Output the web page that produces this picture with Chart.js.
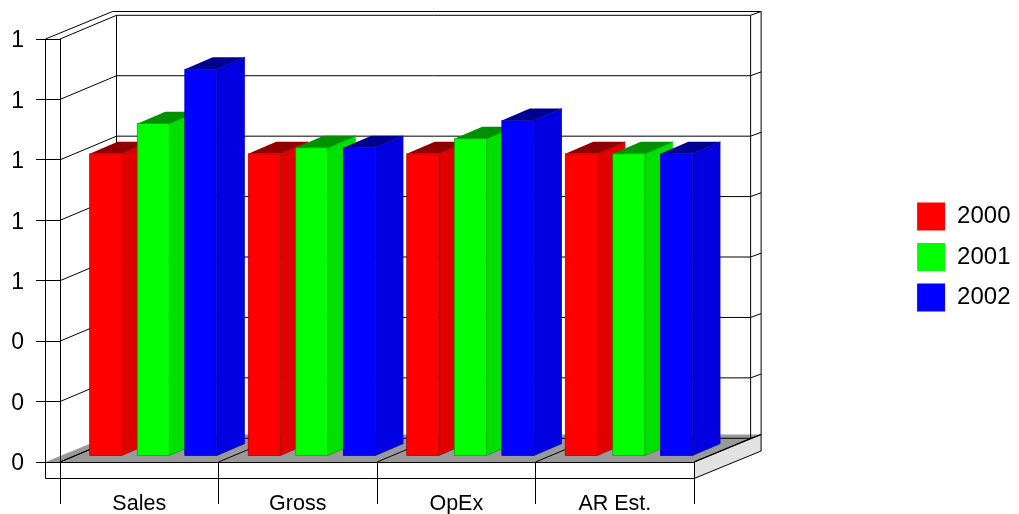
<!DOCTYPE html>
<html>
<head>
<meta charset="utf-8">
<title>Sales by year</title>
<style>
  html, body { margin: 0; padding: 0; background: #fff; }
  canvas { display: block; }
</style>
<script src="https://cdn.jsdelivr.net/npm/chart.js@4/dist/chart.umd.min.js"></script>
</head>
<body>
<canvas id="myChart" width="1019" height="514"></canvas>
<script>
const categories = ["Sales", "Gross", "OpEx", "AR Est."];
const years = ["2000", "2001", "2002"];
const values2000 = [1, 1, 1, 1];
const values2001 = [1.1, 1.02, 1.05, 1];
const values2002 = [1.28, 1.02, 1.11, 1];
const axisMax = 1.4;
const axisStep = 0.2;

const frontColors = ["#ff0000", "#00ff00", "#0000ff"];
const sideColors = ["#e00000", "#00e000", "#0000e0"];
const topColors = ["#900000", "#009000", "#000090"];
const edgeColors = ["#a00000", "#00a000", "#0000a0"];

const fontName = "'Liberation Sans', Arial, sans-serif";

// depth of the walls, of the outer box and of one bar
const wallDepth = { x: 56.5, y: -23.7 };
const boxDepth = { x: 67, y: -27.5 };
const barDepth = { x: 28, y: -12 };
const barShift = { x: 14, y: -6 };
const boxOutset = 14.5;
const boxDrop = 16.5;

function line(ctx, x1, y1, x2, y2, color) {
  ctx.strokeStyle = color || "#000";
  ctx.beginPath();
  ctx.moveTo(x1, y1);
  ctx.lineTo(x2, y2);
  ctx.stroke();
}

function poly(ctx, points, color) {
  ctx.fillStyle = color;
  ctx.beginPath();
  points.forEach((p, i) => (i ? ctx.lineTo(p[0], p[1]) : ctx.moveTo(p[0], p[1])));
  ctx.closePath();
  ctx.fill();
}

const box3d = {
  id: "box3d",
  beforeDraw(chart) {
    const ctx = chart.ctx;
    const { left, right, top, bottom } = chart.chartArea;
    const yScale = chart.scales.y;
    const outerLeft = left - boxOutset;
    const lowY = bottom + boxDrop;
    ctx.save();
    ctx.lineWidth = 1;

    // floor and its side
    poly(ctx, [[right, bottom], [right + boxDepth.x, bottom + boxDepth.y], [right + boxDepth.x, lowY + boxDepth.y], [right, lowY]], "#e2e2e2");
    poly(ctx, [[outerLeft, bottom], [outerLeft + boxDepth.x, bottom + boxDepth.y], [right + boxDepth.x, bottom + boxDepth.y], [right, bottom]], "#999999");

    // walls, gridlines follow the value scale
    yScale.ticks.forEach((tick) => {
      const y = yScale.getPixelForValue(tick.value);
      line(ctx, left, y, left + wallDepth.x, y + wallDepth.y);
      line(ctx, left + wallDepth.x, y + wallDepth.y, right + wallDepth.x, y + wallDepth.y);
      line(ctx, right + wallDepth.x, y + wallDepth.y, right + boxDepth.x, y + boxDepth.y);
    });
    line(ctx, left + wallDepth.x, top + wallDepth.y, left + wallDepth.x, bottom + wallDepth.y);
    line(ctx, right + wallDepth.x, top + wallDepth.y, right + wallDepth.x, bottom + wallDepth.y);

    // lines on the floor
    const slot = (right - left) / categories.length;
    for (let i = 0; i <= categories.length; i++) {
      const x = left + slot * i;
      line(ctx, x, bottom, x + wallDepth.x, bottom + wallDepth.y);
    }
    ctx.lineWidth = 1.3;
    line(ctx, right, bottom, right + boxDepth.x, bottom + boxDepth.y);
    ctx.lineWidth = 1;

    // outer box
    line(ctx, outerLeft, top, outerLeft + boxDepth.x, top + boxDepth.y);
    line(ctx, outerLeft + boxDepth.x, top + boxDepth.y, right + boxDepth.x, top + boxDepth.y);
    line(ctx, right + boxDepth.x, top + boxDepth.y, right + boxDepth.x, lowY + boxDepth.y);
    line(ctx, right + boxDepth.x, lowY + boxDepth.y, right, lowY);
    line(ctx, right, lowY, outerLeft, lowY);
    line(ctx, outerLeft, lowY, outerLeft, top);
    ctx.restore();
  },
  // bars go left to right so each one covers the side of the one before
  beforeDatasetsDraw(chart) {
    const ctx = chart.ctx;
    ctx.save();
    ctx.translate(barShift.x, barShift.y);
    categories.forEach((c, index) => {
      years.forEach((year, di) => {
        const bar = chart.getDatasetMeta(di).data[index];
        const { x, y, base, width } = bar.getProps(["x", "y", "base", "width"]);
        const l = x - width / 2;
        const r = x + width / 2;
        const dx = barDepth.x;
        const dy = barDepth.y;
        poly(ctx, [[r, y], [r + dx, y + dy], [r + dx, base + dy], [r, base]], sideColors[di]);
        poly(ctx, [[l, y], [l + dx, y + dy], [r + dx, y + dy], [r, y]], topColors[di]);
        ctx.lineWidth = 0.7;
        line(ctx, r, y, r + dx, y + dy, topColors[di]);
        line(ctx, r, base, r + dx, base + dy, edgeColors[di]);
        bar.draw(ctx);
        ctx.strokeStyle = edgeColors[di];
        ctx.strokeRect(l, y, width, base - y);
      });
    });
    ctx.restore();
    return false;
  },
};

const myChart = new Chart(document.getElementById("myChart"), {
  type: "bar",
  data: {
    labels: categories,
    datasets: [
      { label: years[0], data: values2000 },
      { label: years[1], data: values2001 },
      { label: years[2], data: values2002 },
    ].map((set, i) => ({
      ...set,
      backgroundColor: frontColors[i],
      borderWidth: 0,
      categoryPercentage: 0.9,
      barPercentage: 0.674,
    })),
  },
  options: {
    responsive: false,
    animation: false,
    layout: { padding: { right: -1.5 } },
    plugins: {
      tooltip: { enabled: false },
      legend: {
        position: "right",
        labels: {
          boxWidth: 28,
          boxHeight: 28,
          padding: 12.5,
          color: "#000",
          font: { family: fontName, size: 24 },
          generateLabels: () =>
            years.map((year, i) => ({
              text: year,
              fillStyle: frontColors[i],
              strokeStyle: frontColors[i],
              lineWidth: 0,
              datasetIndex: i,
            })),
        },
      },
    },
    scales: {
      x: {
        offset: true,
        afterFit: (scale) => { scale.height = 52; },
        border: { color: "#000" },
        grid: { drawOnChartArea: false, tickLength: 42, tickColor: "#000", offset: true },
        ticks: { padding: -13, maxRotation: 0, color: "#000", font: { family: fontName, size: 21.5 } },
      },
      y: {
        min: 0,
        max: axisMax,
        afterFit: (scale) => { scale.width = 60; },
        border: { color: "#000" },
        grid: { drawOnChartArea: false, tickLength: 24, tickColor: "#000" },
        ticks: {
          stepSize: axisStep,
          padding: 12,
          labelOffset: 2,
          color: "#000",
          font: { family: fontName, size: 23 },
          callback: (value) => Math.round(value),
        },
      },
      // empty axes, they only keep the space above the box and before the legend
      gapTop: {
        type: "linear",
        position: "top",
        afterFit: (scale) => { scale.height = 39; },
        border: { display: false },
        grid: { display: false },
        ticks: { display: false },
      },
      gapRight: {
        type: "linear",
        position: "right",
        afterFit: (scale) => { scale.width = 210.5; },
        border: { display: false },
        grid: { display: false },
        ticks: { display: false },
      },
    },
  },
  plugins: [box3d],
});
</script>
</body>
</html>
